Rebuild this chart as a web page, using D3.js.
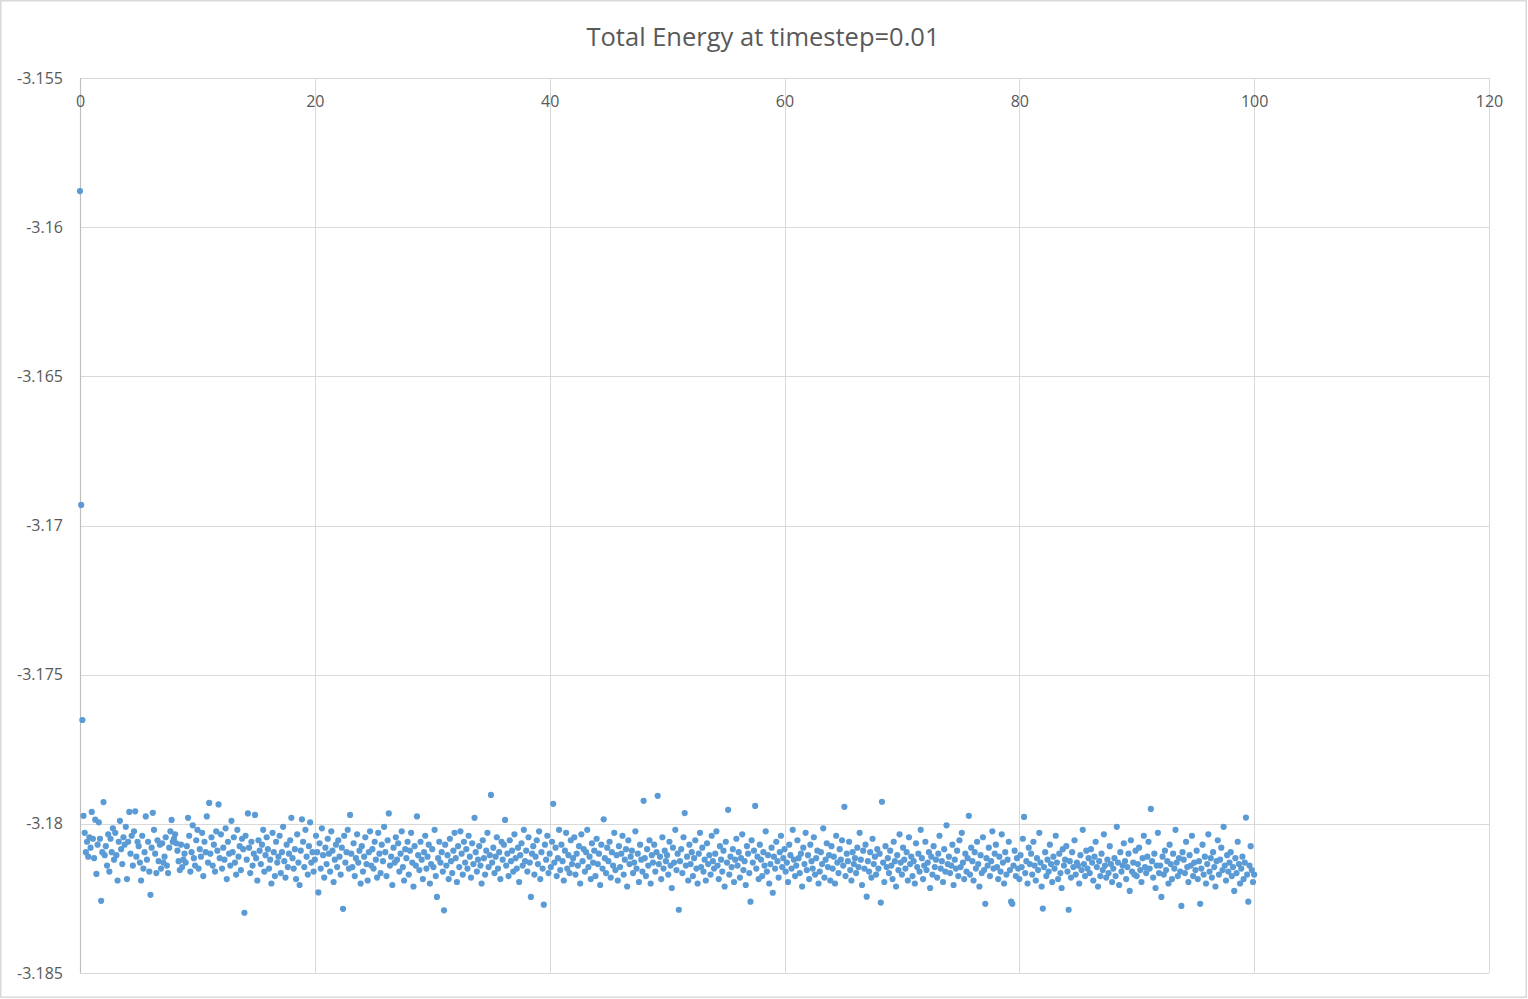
<!DOCTYPE html>
<html><head><meta charset="utf-8">
<script src="https://cdn.jsdelivr.net/npm/d3@7"></script>
<style>body{margin:0;background:#fff;overflow:hidden} text{font-family:"Open Sans",sans-serif}</style>
</head><body><svg id="c" width="1528" height="999"></svg>
<script>
const title = "Total Energy at timestep=0.01";
const xTicks = [0, 20, 40, 60, 80, 100, 120];
const yTicks = [-3.155, -3.16, -3.165, -3.17, -3.175, -3.18, -3.185];
const yTickLabels = ["-3.155", "-3.16", "-3.165", "-3.17", "-3.175", "-3.18", "-3.185"];
const timeStep = 0.1;
const energy = [
-3.15879,-3.16931,-3.17652,-3.17973,-3.18030,-3.18095,-3.18060,-3.18110,-3.18045,-3.18080,
-3.17960,-3.18050,-3.18115,-3.17986,-3.18168,-3.18070,-3.17995,-3.18050,-3.18258,-3.18095,
-3.17927,-3.18105,-3.18075,-3.18140,-3.18035,-3.18160,-3.18050,-3.18095,-3.18015,-3.18120,
-3.18030,-3.18105,-3.18190,-3.18060,-3.17990,-3.18085,-3.18135,-3.18045,-3.18070,-3.18010,
-3.18185,-3.18060,-3.17960,-3.18100,-3.18040,-3.18140,-3.18025,-3.17958,-3.18110,-3.18060,
-3.18075,-3.18130,-3.18190,-3.18040,-3.18150,-3.18095,-3.17975,-3.18120,-3.18060,-3.18160,
-3.18238,-3.18080,-3.17963,-3.18020,-3.18100,-3.18165,-3.18055,-3.18125,-3.18070,-3.18150,
-3.18065,-3.18130,-3.18110,-3.18045,-3.18140,-3.18165,-3.18080,-3.18025,-3.17987,-3.18060,
-3.18050,-3.18035,-3.18065,-3.18090,-3.18125,-3.18155,-3.18070,-3.18145,-3.18120,-3.18100,
-3.18130,-3.18075,-3.17980,-3.18040,-3.18160,-3.18095,-3.18005,-3.18115,-3.18140,-3.18055,
-3.18020,-3.18150,-3.18085,-3.18110,-3.18030,-3.18175,-3.18060,-3.18095,-3.17975,-3.18130,
-3.17930,-3.18100,-3.18045,-3.18140,-3.18070,-3.18160,-3.18025,-3.18090,-3.17935,-3.18115,
-3.18035,-3.18150,-3.18080,-3.18120,-3.18015,-3.18185,-3.18060,-3.18100,-3.18140,-3.17990,
-3.18095,-3.18045,-3.18130,-3.18170,-3.18020,-3.18110,-3.18075,-3.18155,-3.18050,-3.18085,
-3.18298,-3.18040,-3.18120,-3.17965,-3.18080,-3.18165,-3.18060,-3.18140,-3.18100,-3.17970,
-3.18115,-3.18190,-3.18055,-3.18090,-3.18135,-3.18070,-3.18020,-3.18160,-3.18105,-3.18045,
-3.18085,-3.18150,-3.18120,-3.18200,-3.18030,-3.18095,-3.18175,-3.18060,-3.18130,-3.18110,
-3.18040,-3.18165,-3.18095,-3.18010,-3.18125,-3.18180,-3.18070,-3.18145,-3.18100,-3.18055,
-3.17980,-3.18115,-3.18150,-3.18085,-3.18185,-3.18035,-3.18130,-3.18205,-3.18090,-3.17985,
-3.18060,-3.18145,-3.18020,-3.18110,-3.18170,-3.18075,-3.17995,-3.18130,-3.18095,-3.18160,
-3.18120,-3.18040,-3.18095,-3.18230,-3.18065,-3.18150,-3.18015,-3.18105,-3.18180,-3.18080,
-3.18135,-3.18050,-3.18100,-3.18160,-3.18025,-3.18090,-3.18195,-3.18120,-3.18070,-3.18145,
-3.18055,-3.18110,-3.18170,-3.18080,-3.18285,-3.18040,-3.18130,-3.18095,-3.18020,-3.18150,
-3.17970,-3.18100,-3.18145,-3.18065,-3.18175,-3.18115,-3.18035,-3.18130,-3.18090,-3.18200,
-3.18075,-3.18160,-3.18110,-3.18045,-3.18135,-3.18190,-3.18095,-3.18025,-3.18140,-3.18085,
-3.18150,-3.18060,-3.18120,-3.18180,-3.18030,-3.18100,-3.18165,-3.18070,-3.18125,-3.18010,
-3.18095,-3.18175,-3.18055,-3.17965,-3.18140,-3.18110,-3.18205,-3.18080,-3.18130,-3.18045,
-3.18120,-3.18065,-3.18160,-3.18100,-3.18025,-3.18145,-3.18190,-3.18085,-3.18115,-3.18060,
-3.18170,-3.18090,-3.18030,-3.18130,-3.18210,-3.18075,-3.18140,-3.17975,-3.18105,-3.18155,
-3.18060,-3.18120,-3.18185,-3.18095,-3.18040,-3.18150,-3.18110,-3.18070,-3.18200,-3.18135,
-3.18085,-3.18145,-3.18020,-3.18175,-3.18245,-3.18115,-3.18060,-3.18130,-3.18095,-3.18160,
-3.18290,-3.18070,-3.18140,-3.18105,-3.18185,-3.18050,-3.18125,-3.18165,-3.18090,-3.18030,
-3.18115,-3.18195,-3.18075,-3.18145,-3.18025,-3.18100,-3.18170,-3.18060,-3.18130,-3.18085,
-3.18150,-3.18040,-3.18110,-3.18180,-3.18065,-3.18135,-3.17980,-3.18095,-3.18160,-3.18120,
-3.18075,-3.18140,-3.18200,-3.18055,-3.18115,-3.18170,-3.18090,-3.18030,-3.18145,-3.18105,
-3.17903,-3.18130,-3.18080,-3.18165,-3.18110,-3.18045,-3.18150,-3.18095,-3.18185,-3.18060,
-3.18120,-3.18070,-3.17987,-3.18140,-3.18100,-3.18175,-3.18055,-3.18125,-3.18090,-3.18160,
-3.18035,-3.18115,-3.18150,-3.18080,-3.18195,-3.18105,-3.18065,-3.18140,-3.18020,-3.18125,
-3.18090,-3.18160,-3.18045,-3.18130,-3.18245,-3.18100,-3.18075,-3.18170,-3.18110,-3.18055,
-3.18135,-3.18025,-3.18185,-3.18095,-3.18150,-3.18271,-3.18070,-3.18120,-3.18040,-3.18165,
-3.18100,-3.18145,-3.18060,-3.17933,-3.18130,-3.18080,-3.18175,-3.18115,-3.18020,-3.18155,
-3.18070,-3.18125,-3.18190,-3.18090,-3.18030,-3.18150,-3.18105,-3.18165,-3.18055,-3.18135,
-3.18115,-3.18045,-3.18170,-3.18100,-3.18140,-3.18075,-3.18200,-3.18035,-3.18125,-3.18085,
-3.18160,-3.18095,-3.18020,-3.18145,-3.18110,-3.18185,-3.18065,-3.18130,-3.18090,-3.18175,
-3.18050,-3.18135,-3.18100,-3.18205,-3.18070,-3.18150,-3.17985,-3.18115,-3.18165,-3.18080,
-3.18125,-3.18060,-3.18180,-3.18095,-3.18140,-3.18030,-3.18155,-3.18105,-3.18190,-3.18075,
-3.18145,-3.18100,-3.18040,-3.18170,-3.18120,-3.18085,-3.18210,-3.18055,-3.18135,-3.18110,
-3.18090,-3.18165,-3.18130,-3.18025,-3.18150,-3.18100,-3.18195,-3.18070,-3.18120,-3.18160,
-3.17923,-3.18115,-3.18175,-3.18085,-3.18140,-3.18055,-3.18200,-3.18105,-3.18130,-3.18070,
-3.18160,-3.18095,-3.17906,-3.18135,-3.18110,-3.18185,-3.18045,-3.18150,-3.18090,-3.18125,
-3.18105,-3.18170,-3.18060,-3.18140,-3.18215,-3.18080,-3.18130,-3.18020,-3.18155,-3.18100,
-3.18288,-3.18125,-3.18085,-3.18165,-3.18045,-3.17964,-3.18140,-3.18110,-3.18190,-3.18070,
-3.18135,-3.18095,-3.18175,-3.18115,-3.18055,-3.18150,-3.18200,-3.18100,-3.18030,-3.18145,
-3.18080,-3.18160,-3.18120,-3.18190,-3.18065,-3.18135,-3.18105,-3.18170,-3.18040,-3.18125,
-3.18150,-3.18100,-3.18025,-3.18140,-3.18185,-3.18075,-3.18120,-3.18160,-3.18090,-3.18210,
-3.18060,-3.18130,-3.17953,-3.18170,-3.18110,-3.18145,-3.18085,-3.18195,-3.18120,-3.18050,
-3.18140,-3.18095,-3.18180,-3.18115,-3.18035,-3.18155,-3.18125,-3.18205,-3.18075,-3.18100,
-3.18165,-3.18261,-3.18055,-3.18130,-3.18090,-3.17940,-3.18150,-3.18110,-3.18185,-3.18070,
-3.18120,-3.18175,-3.18095,-3.18140,-3.18025,-3.18160,-3.18105,-3.18200,-3.18135,-3.18080,
-3.18231,-3.18110,-3.18150,-3.18060,-3.18125,-3.18180,-3.18095,-3.18040,-3.18145,-3.18115,
-3.18085,-3.18160,-3.18130,-3.18195,-3.18070,-3.18105,-3.18150,-3.18020,-3.18120,-3.18175,
-3.18140,-3.18055,-3.18115,-3.18165,-3.18100,-3.18210,-3.18080,-3.18135,-3.18030,-3.18155,
-3.18105,-3.18185,-3.18070,-3.18125,-3.18150,-3.18045,-3.18170,-3.18115,-3.18090,-3.18200,
-3.18160,-3.18095,-3.18135,-3.18015,-3.18180,-3.18120,-3.18065,-3.18145,-3.18105,-3.18190,
-3.18075,-3.18150,-3.18110,-3.18200,-3.18040,-3.18130,-3.18165,-3.18085,-3.18120,-3.18055,
-3.18140,-3.17943,-3.18175,-3.18100,-3.18125,-3.18060,-3.18155,-3.18190,-3.18095,-3.18135,
-3.18115,-3.18165,-3.18080,-3.18145,-3.18030,-3.18120,-3.18205,-3.18090,-3.18150,-3.18070,
-3.18244,-3.18125,-3.18160,-3.18095,-3.18180,-3.18050,-3.18135,-3.18110,-3.18170,-3.18085,
-3.18150,-3.18100,-3.18264,-3.17926,-3.18130,-3.18195,-3.18075,-3.18145,-3.18115,-3.18165,
-3.18090,-3.18140,-3.18185,-3.18060,-3.18125,-3.18210,-3.18105,-3.18155,-3.18035,-3.18130,
-3.18170,-3.18080,-3.18120,-3.18150,-3.18095,-3.18190,-3.18045,-3.18135,-3.18110,-3.18175,
-3.18125,-3.18200,-3.18065,-3.18145,-3.18100,-3.18160,-3.18020,-3.18115,-3.18185,-3.18140,
-3.18060,-3.18155,-3.18130,-3.18095,-3.18215,-3.18110,-3.18170,-3.18075,-3.18145,-3.18120,
-3.18180,-3.18100,-3.18040,-3.18150,-3.18125,-3.18195,-3.18085,-3.18160,-3.18005,-3.18135,
-3.18110,-3.18165,-3.18140,-3.18070,-3.18205,-3.18120,-3.18150,-3.18090,-3.18175,-3.18055,
-3.18145,-3.18030,-3.18130,-3.18185,-3.18100,-3.18160,-3.18115,-3.17973,-3.18170,-3.18080,
-3.18125,-3.18190,-3.18095,-3.18150,-3.18060,-3.18135,-3.18210,-3.18105,-3.18165,-3.18045,
-3.18155,-3.18268,-3.18115,-3.18140,-3.18080,-3.18175,-3.18125,-3.18025,-3.18150,-3.18100,
-3.18070,-3.18145,-3.18185,-3.18110,-3.18160,-3.18035,-3.18130,-3.18200,-3.18095,-3.18170,
-3.18120,-3.18060,-3.18155,-3.18261,-3.18268,-3.18140,-3.18090,-3.18175,-3.18115,-3.18150,
-3.18185,-3.18105,-3.18145,-3.18050,-3.17977,-3.18165,-3.18125,-3.18200,-3.18080,-3.18135,
-3.18100,-3.18170,-3.18060,-3.18140,-3.18190,-3.18115,-3.18155,-3.18030,-3.18130,-3.18210,
-3.18284,-3.18145,-3.18095,-3.18175,-3.18120,-3.18160,-3.18070,-3.18135,-3.18195,-3.18110,
-3.18150,-3.18040,-3.18130,-3.18185,-3.18100,-3.18165,-3.18215,-3.18085,-3.18140,-3.18120,
-3.18075,-3.18160,-3.18288,-3.18125,-3.18180,-3.18095,-3.18145,-3.18055,-3.18170,-3.18130,
-3.18140,-3.18200,-3.18105,-3.18155,-3.18020,-3.18135,-3.18175,-3.18090,-3.18150,-3.18115,
-3.18165,-3.18085,-3.18130,-3.18190,-3.18110,-3.18060,-3.18145,-3.18210,-3.18125,-3.18175,
-3.18100,-3.18155,-3.18035,-3.18140,-3.18180,-3.18120,-3.18165,-3.18075,-3.18135,-3.18195,
-3.18150,-3.18115,-3.18175,-3.18010,-3.18130,-3.18205,-3.18095,-3.18160,-3.18140,-3.18065,
-3.18125,-3.18185,-3.18145,-3.18100,-3.18225,-3.18055,-3.18160,-3.18130,-3.18170,-3.18090,
-3.18175,-3.18135,-3.18080,-3.18155,-3.18195,-3.18115,-3.18040,-3.18145,-3.18165,-3.18110,
-3.18060,-3.18150,-3.17950,-3.18125,-3.18180,-3.18100,-3.18215,-3.18140,-3.18030,-3.18165,
-3.18140,-3.18245,-3.18110,-3.18170,-3.18090,-3.18155,-3.18125,-3.18200,-3.18070,-3.18135,
-3.18185,-3.18100,-3.18150,-3.18020,-3.18130,-3.18175,-3.18115,-3.18160,-3.18275,-3.18095,
-3.18120,-3.18165,-3.18060,-3.18145,-3.18195,-3.18105,-3.18140,-3.18040,-3.18175,-3.18130,
-3.18155,-3.18090,-3.18185,-3.18125,-3.18268,-3.18150,-3.18070,-3.18170,-3.18110,-3.18200,
-3.18135,-3.18035,-3.18160,-3.18115,-3.18180,-3.18095,-3.18145,-3.18210,-3.18125,-3.18055,
-3.18170,-3.18120,-3.18080,-3.18155,-3.18010,-3.18140,-3.18190,-3.18105,-3.18160,-3.18130,
-3.18095,-3.18175,-3.18145,-3.18225,-3.18115,-3.18165,-3.18060,-3.18135,-3.18200,-3.18150,
-3.18110,-3.18185,-3.18130,-3.17979,-3.18170,-3.18261,-3.18140,-3.18075,-3.18155,-3.18195,
-3.18170
];
const time = energy.map((_, i) => +(i * timeStep).toFixed(1));
const points = energy.map((e, i) => ({ t: time[i], e }));

const svg = d3.select("#c");
const plotL = 80, plotR = 1489, plotT = 78, plotB = 973;
const x = d3.scaleLinear().domain([0, 120]).range([plotL, plotR]);
const y = d3.scaleLinear().domain([-3.185, -3.155]).range([plotB, plotT]);

// chart border
svg.append("rect").attr("x", 0.75).attr("y", 0.75).attr("width", 1525.5).attr("height", 996.5)
  .attr("fill", "#fff").attr("stroke", "#d9d9d9").attr("stroke-width", 1.5);

// title
svg.append("text").attr("x", 763).attr("y", 46).attr("text-anchor", "middle")
  .attr("font-size", 25.5).attr("fill", "#595959").text(title);

// gridlines
const grid = svg.append("g");
grid.selectAll(".h").data(yTicks).join("line")
  .attr("x1", plotL).attr("x2", plotR)
  .attr("y1", d => Math.round(y(d)) + 0.5).attr("y2", d => Math.round(y(d)) + 0.5)
  .attr("stroke", "#d9d9d9").attr("stroke-width", 1);
grid.selectAll(".v").data(xTicks).join("line")
  .attr("y1", plotT).attr("y2", plotB)
  .attr("x1", d => Math.round(x(d)) + 0.5).attr("x2", d => Math.round(x(d)) + 0.5)
  .attr("stroke", "#d9d9d9").attr("stroke-width", 1);
// vertical axis line
svg.append("line").attr("x1", plotL + 0.5).attr("x2", plotL + 0.5).attr("y1", plotT).attr("y2", plotB)
  .attr("stroke", "#bfbfbf").attr("stroke-width", 1.2);

// y axis labels
const yAxis = d3.axisLeft(y).tickValues(yTicks).tickSize(0).tickPadding(17)
  .tickFormat((d, i) => yTickLabels[i]);
const gy = svg.append("g").attr("transform", `translate(${plotL},0)`).call(yAxis);
gy.select(".domain").remove();
gy.selectAll("text").attr("font-size", 16).attr("fill", "#595959").attr("font-family", "'Open Sans',sans-serif");

// x axis labels (axis crosses at the top)
const xAxis = d3.axisBottom(x).tickValues(xTicks).tickSize(0).tickPadding(18).tickFormat(d3.format("d"));
const gx = svg.append("g").attr("transform", `translate(0,${plotT})`).call(xAxis);
gx.select(".domain").remove();
gx.selectAll("text").attr("font-size", 16).attr("fill", "#595959").attr("font-family", "'Open Sans',sans-serif");

// points
svg.append("g").selectAll("circle").data(points).join("circle")
  .attr("cx", d => x(d.t)).attr("cy", d => y(d.e)).attr("r", 3.1)
  .attr("fill", "#5b9bd5");
</script>
</body></html>
